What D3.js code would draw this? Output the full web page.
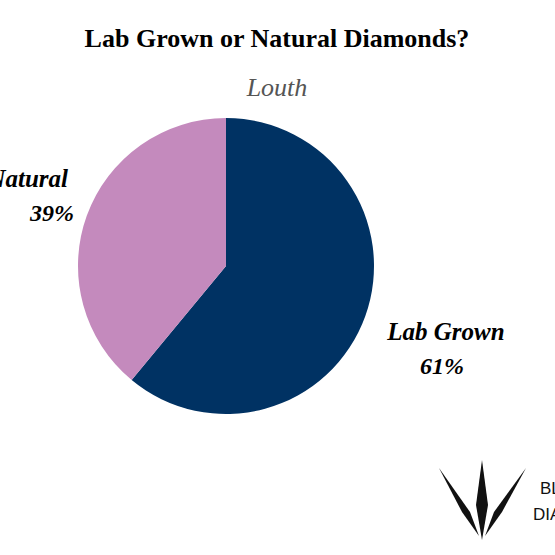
<!DOCTYPE html><html><head><meta charset="utf-8">
<script src="https://cdn.jsdelivr.net/npm/d3@7"></script>
<style>body{margin:0;background:#fff}</style></head><body>
<svg id="c" width="555" height="555"></svg>
<script>
const categories=["Lab Grown","Natural"];
const values=[61,39];
const colors=["#003263","#c48abd"];
const svg=d3.select("#c");
const serif="'Liberation Serif','DejaVu Serif',serif";
svg.append("text").attr("x",277).attr("y",47).attr("text-anchor","middle").attr("font-family",serif).attr("font-weight","bold").attr("font-size",26).text("Lab Grown or Natural Diamonds?");
svg.append("text").attr("x",277).attr("y",96).attr("text-anchor","middle").attr("font-family",serif).attr("font-style","italic").attr("font-size",26).attr("fill","#555").text("Louth");
const pie=d3.pie().sort(null)(values);
const arc=d3.arc().innerRadius(0).outerRadius(148);
const g=svg.append("g").attr("transform","translate(226,266)");
g.selectAll("path").data(pie).join("path").attr("d",arc).attr("fill",(d,i)=>colors[i]);
const labels=[{x:446,y:340,a:"middle"},{x:68,y:187,a:"end"}];
const pcts=[{x:442,y:374},{x:52,y:221}];
categories.forEach((c,i)=>{
  svg.append("text").attr("x",labels[i].x).attr("y",labels[i].y).attr("text-anchor",labels[i].a).attr("font-family",serif).attr("font-style","italic").attr("font-weight","bold").attr("font-size",25).text(c);
  svg.append("text").attr("x",pcts[i].x).attr("y",pcts[i].y).attr("text-anchor","middle").attr("font-family",serif).attr("font-style","italic").attr("font-weight","bold").attr("font-size",24).text(values[i]+"%");
});
const logo=svg.append("g").attr("fill","#111");
logo.append("path").attr("d","M482,460 L488,505 L482,540 L476,505 Z");
logo.append("path").attr("d","M439,468 L470,512 L479,536 L462,512 Z");
logo.append("path").attr("d","M526,468 L502,512 L485,536 L494,512 Z");
logo.append("text").attr("x",540).attr("y",494).attr("font-family","'Liberation Sans',sans-serif").attr("font-size",17).text("BLUE");
logo.append("text").attr("x",533).attr("y",520).attr("font-family","'Liberation Sans',sans-serif").attr("font-size",17).text("DIAMOND");
</script></body></html>
